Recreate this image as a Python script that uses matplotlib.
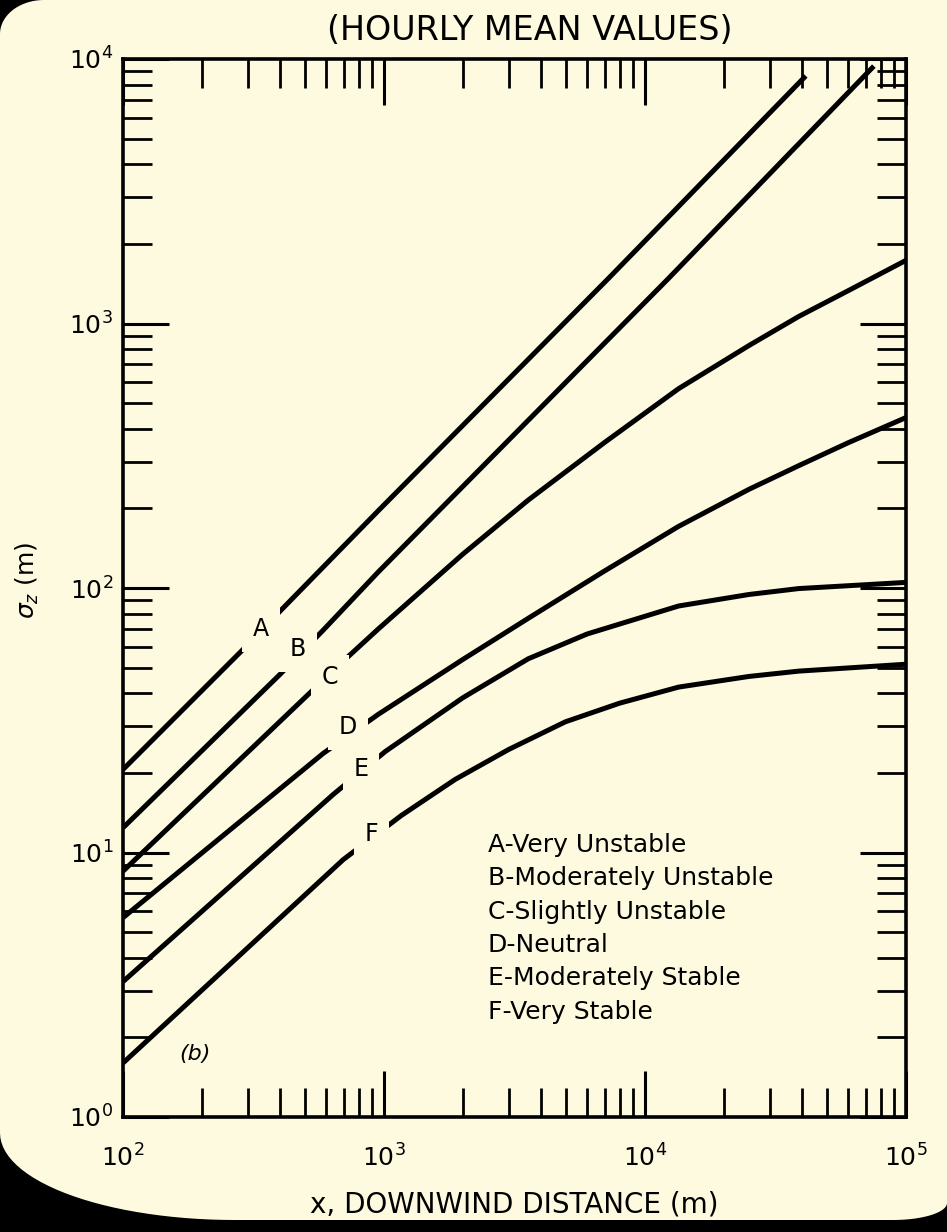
import matplotlib
matplotlib.use('Agg')
from matplotlib import pyplot as plt
from matplotlib.patches import Polygon
import numpy as np

# sigma_z (x in m, sigma_z in m)
x_A = [100, 284, 400, 951, 7240, 41300]
sig_A = [20.6, 57.7, 81.8, 196, 1480, 8630]

x_B = [100, 400, 585, 951, 12300, 75300]
sig_B = [12.4, 47.2, 69.3, 115, 1480, 9400]

x_C = [100, 499, 711, 951, 2000, 3570, 7000, 13450, 25000, 38800, 60000, 100000]
sig_C = [8.5, 38.6, 53.8, 70, 134, 215, 355, 567, 825, 1063, 1330, 1733]

x_D = [100, 585, 951, 2000, 3570, 7000, 13450, 25000, 38800, 60000, 100000]
sig_D = [5.67, 23.7, 33.3, 53.6, 76.8, 116, 171, 236, 290, 354, 441]

x_E = [100, 640, 1012, 2000, 3570, 6000, 13450, 25000, 38800, 100000]
sig_E = [3.25, 16.6, 24.1, 38.4, 54, 67, 85.5, 94.5, 99.5, 105]

x_F = [100, 698, 1165, 1875, 3000, 4955, 8000, 13450, 25000, 38800, 100000]
sig_F = [1.6, 9.4, 13.8, 18.9, 24.5, 31.2, 36.7, 42.2, 46.3, 48.5, 51.5]

curve_names = ['A', 'B', 'C', 'D', 'E', 'F']
# where the letters sit on each curve
label_x = [338, 469, 622, 729, 819, 893]
label_y = [70, 58.7, 46, 29.7, 20.6, 11.7]

stability_classes = ['A-Very Unstable', 'B-Moderately Unstable', 'C-Slightly Unstable',
                     'D-Neutral', 'E-Moderately Stable', 'F-Very Stable']

bg = '#fdfadf'
W, H = 947, 1232

fig = plt.figure(figsize=(W / 100, H / 100), dpi=100, facecolor=bg)
ax = fig.add_axes([123 / W, 1 - 1117 / H, (906 - 123) / W, (1117 - 59) / H])
ax.set_facecolor(bg)

curves = [(x_A, sig_A), (x_B, sig_B), (x_C, sig_C), (x_D, sig_D), (x_E, sig_E), (x_F, sig_F)]
for (xs, ys) in curves:
    ax.plot(xs, ys, color='black', lw=3.6, solid_capstyle='butt',
            solid_joinstyle='round', zorder=2)

for name, lx, ly in zip(curve_names, label_x, label_y):
    ax.text(lx, ly, name, ha='center', va='center', fontsize=17, zorder=3,
            bbox=dict(boxstyle='square,pad=0.45', fc=bg, ec='none'))

ax.set_xscale('log')
ax.set_yscale('log')
ax.set_xlim(1e2, 1e5)
ax.set_ylim(1, 1e4)

ax.tick_params(which='both', direction='in', top=True, right=True, color='black')
ax.tick_params(which='major', length=33, width=2.2, labelsize=18)
ax.tick_params(which='minor', length=21, width=2.0)
ax.tick_params(axis='x', which='major', pad=20)
ax.tick_params(axis='y', which='major', pad=7)
for sp in ax.spines.values():
    sp.set_linewidth(2.6)

ax.set_xlabel('x, DOWNWIND DISTANCE (m)', fontsize=20, va='center')
ax.xaxis.set_label_coords(0.5, -0.083)
ax.set_ylabel(r'$\sigma_z$ (m)', fontsize=18, va='center')
ax.yaxis.set_label_coords(-0.1226, 0.507)

fig.text(530 / W, 1 - 30 / H, '(HOURLY MEAN VALUES)', ha='center', va='center', fontsize=24)

for i, s in enumerate(stability_classes):
    ax.text(0.466, 0.257 - i * 0.0315, s, transform=ax.transAxes, ha='left', va='center', fontsize=18)

ax.text(0.092, 0.060, '(b)', transform=ax.transAxes, ha='center', va='center',
        fontsize=16, style='italic')

# black rounded corners of the scanned page
def px(x, y):
    return (x / W, 1 - y / H)

t = np.linspace(0, np.pi / 2, 30)
tl = [px(0, 0)] + [px(44 - 44 * np.cos(a), 34 - 34 * np.sin(a)) for a in t]
bl = [px(0, H)] + [px(235 - 235 * np.cos(a), 1220 - 87 + 87 * np.sin(a)) for a in t] + [px(W, 1220), px(W, H)]
br = [px(W, 1220)] + [px(893 + 54 * np.sin(a), 1220 - 17 * (1 - np.cos(a))) for a in t] + [px(W, 1220)]
for pts in (tl, bl, br):
    fig.add_artist(Polygon(pts, closed=True, transform=fig.transFigure, fc='black', ec='none', zorder=10))

fig.savefig('out.png', dpi=100, facecolor=bg)
